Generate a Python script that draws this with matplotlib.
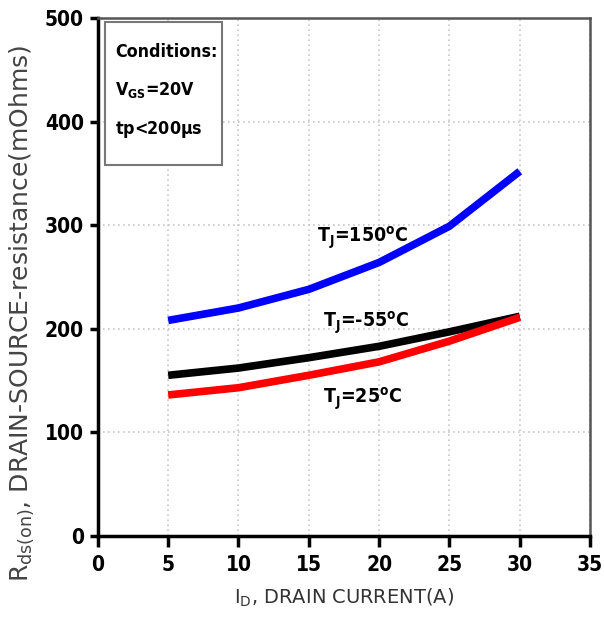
import numpy as np
import matplotlib
matplotlib.use("Agg")
import matplotlib.pyplot as plt
from matplotlib.patches import Rectangle

# drain current (A) and Rds(on) (mOhms) per junction temperature
current = [5, 10, 15, 20, 25, 30]
r_150 = [208, 220, 238, 264, 299, 352]
r_m55 = [155, 162, 172, 183, 197, 212]
r_25 = [136, 143, 155, 168, 188, 211]
x_ticks = [0, 5, 10, 15, 20, 25, 30, 35]
y_ticks = [0, 100, 200, 300, 400, 500]

bold = dict(family="DejaVu Sans", fontstretch="condensed", fontweight="bold")

fig = plt.figure(figsize=(6.04, 6.23), dpi=100)
ax = fig.add_axes([0.162, 0.140, 0.815, 0.831])

ax.plot(current, r_150, color="#0000ff", lw=5.5, solid_capstyle="butt")
ax.plot(current, r_m55, color="black", lw=5.5, solid_capstyle="butt")
ax.plot(current, r_25, color="#ff0000", lw=5.5, solid_capstyle="butt")

ax.set_xlim(0, 35)
ax.set_ylim(0, 500)
ax.set_xticks(x_ticks)
ax.set_yticks(y_ticks)
ax.grid(True, color="#c8c8c8", linestyle=(0, (1, 2)), lw=1.2)

for side in ["left", "bottom"]:
    ax.spines[side].set_linewidth(2.5)
    ax.spines[side].set_color("black")
for side in ["top", "right"]:
    ax.spines[side].set_linewidth(1.8)
    ax.spines[side].set_color("#555555")
ax.tick_params(axis="both", direction="out", length=8, width=2.5, pad=6, labelsize=15)
ax.tick_params(axis="y", length=6, pad=4)
for lbl in ax.get_xticklabels() + ax.get_yticklabels():
    lbl.set_fontfamily("DejaVu Sans")
    lbl.set_fontstretch("condensed")
    lbl.set_fontweight("bold")

ax.set_xlabel(r"I$_\mathregular{D}$, DRAIN CURRENT(A)", fontsize=14, color="#333333", labelpad=8)
ax.set_ylabel(r"R$_\mathregular{ds(on)}$, DRAIN-SOURCE-resistance(mOhms)", fontsize=18,
              color="#444444")
ax.yaxis.set_label_coords(-0.125, 0.43)

# conditions box
ax.add_patch(Rectangle((0.014, 0.716), 0.238, 0.276, transform=ax.transAxes,
                       fc="white", ec="#777777", lw=1.5, zorder=3))
cond = ["Conditions:", r"V$_\mathregular{GS}$=20V", r"tp<200$\mathregular{\mu}$s"]
for txt, yy in zip(cond, [0.934, 0.861, 0.784]):
    ax.text(0.035, yy, txt, transform=ax.transAxes, fontsize=12.8, va="center", ha="left",
            zorder=4, **bold)

lbl_kw = dict(fontsize=14, ha="left", va="center", **bold)
ax.text(15.6, 288, r"T$_\mathregular{J}$=150$^\mathregular{o}$C", **lbl_kw)
ax.text(16.0, 206, r"T$_\mathregular{J}$=-55$^\mathregular{o}$C", **lbl_kw)
ax.text(16.0, 132, r"T$_\mathregular{J}$=25$^\mathregular{o}$C", **lbl_kw)

fig.savefig("out.png", dpi=100)
